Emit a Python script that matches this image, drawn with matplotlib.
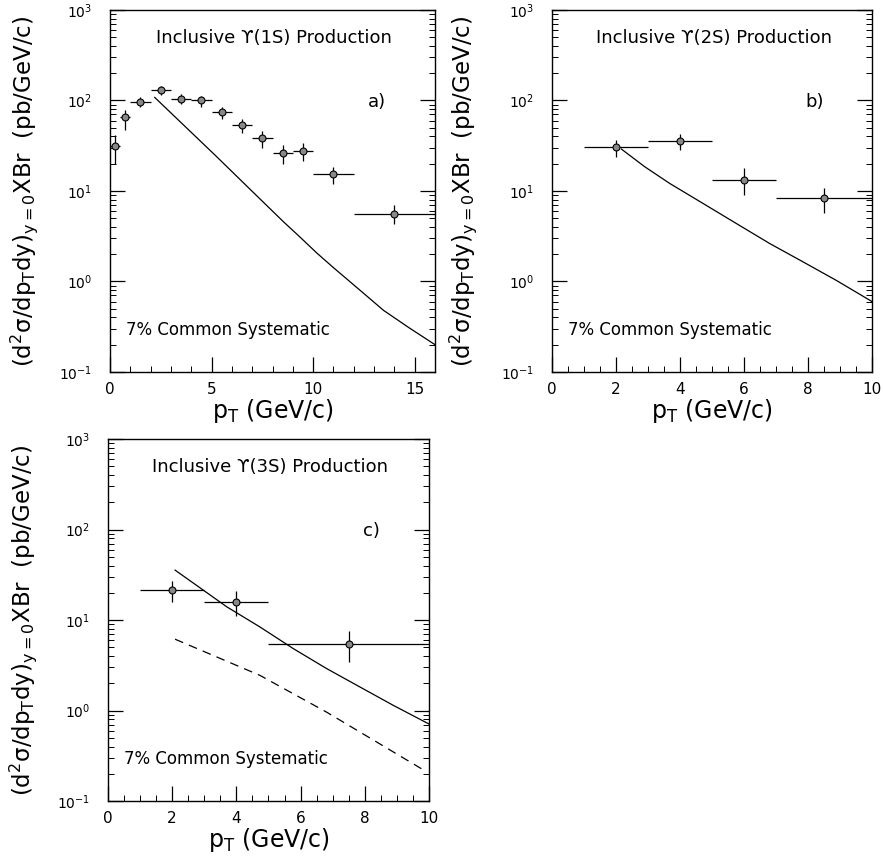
import numpy as np
import matplotlib
matplotlib.use("Agg")
import matplotlib.pyplot as plt
from matplotlib.ticker import MultipleLocator, LogLocator, NullFormatter

# Upsilon(1S)
pt_1s = [0.25, 0.75, 1.5, 2.5, 3.5, 4.5, 5.5, 6.5, 7.5, 8.5, 9.5, 11.0, 14.0]
xerr_1s = [0.25, 0.25, 0.5, 0.5, 0.5, 0.5, 0.5, 0.5, 0.5, 0.5, 0.5, 1.0, 2.0]
y_1s = [31, 65, 97, 130, 105, 101, 74, 53, 38, 26, 27.6, 15.4, 5.6]
yhi_1s = [41.5, 78, 108, 144, 117, 112, 85, 63, 46, 32, 34, 18.5, 7.0]
ylo_1s = [19.8, 47, 84, 115, 91, 85, 63, 44, 30, 20, 21.6, 11.9, 4.3]
th_pt_1s = [2.2, 5.25, 6.9, 8.54, 9.36, 10.18, 11.0, 11.82, 12.64, 13.46, 14.7, 16.0]
th_1s = [108, 23.9, 10.4, 4.56, 3.08, 2.06, 1.42, 0.99, 0.69, 0.48, 0.31, 0.20]

# Upsilon(2S)
pt_2s = [2.0, 4.0, 6.0, 8.5]
xerr_2s = [1.0, 1.0, 1.0, 1.5]
y_2s = [30.8, 35.6, 13.1, 8.26]
yhi_2s = [37, 43, 17.7, 10.7]
ylo_2s = [23.9, 28.3, 9.0, 5.7]
th_pt_2s = [2.17, 2.9, 3.68, 4.72, 5.76, 6.80, 7.84, 8.88, 10.0]
th_2s = [29.0, 18.5, 12.1, 7.28, 4.37, 2.63, 1.65, 1.03, 0.60]

# Upsilon(3S)
pt_3s = [2.0, 4.0, 7.5]
xerr_3s = [1.0, 1.0, 2.5]
y_3s = [21.2, 15.9, 5.4]
yhi_3s = [26.7, 20.7, 7.5]
ylo_3s = [16.0, 11.1, 3.4]
th_pt_3s = [2.09, 3.70, 4.73, 5.77, 6.81, 7.85, 8.89, 10.0]
th_3s = [35.6, 14.0, 8.4, 4.84, 2.91, 1.82, 1.14, 0.71]
th2_pt_3s = [2.09, 4.73, 6.81, 9.93]
th2_3s = [6.14, 2.45, 0.96, 0.21]

ylab = r'$\mathregular{(d^2\sigma/dp_T dy)_{y=0}}$XBr  (pb/GeV/c)'
xlab = r'$\mathregular{p_T}$ (GeV/c)'

fig = plt.figure(figsize=(8.83, 8.63), dpi=100)
ax_a = fig.add_axes([0.1246, 0.5690, 0.3681, 0.4195])
ax_b = fig.add_axes([0.6251, 0.5690, 0.3624, 0.4195])
ax_c = fig.add_axes([0.1223, 0.0718, 0.3635, 0.4195])


def panel(ax, pt, xerr, y, ylo, yhi, xmax, major, minor, title, tag, ylx):
    yerr = [np.array(y) - np.array(ylo), np.array(yhi) - np.array(y)]
    ax.errorbar(pt, y, xerr=xerr, yerr=yerr, fmt='o', ms=5, mfc='#888888',
                mec='black', mew=0.8, ecolor='black', elinewidth=0.9,
                capsize=0, color='black', zorder=3)
    ax.set_yscale('log')
    ax.set_xlim(0, xmax)
    ax.set_ylim(0.1, 1000)
    ax.xaxis.set_major_locator(MultipleLocator(major))
    ax.xaxis.set_minor_locator(MultipleLocator(minor))
    ax.yaxis.set_major_locator(LogLocator(base=10, numticks=10))
    ax.yaxis.set_minor_locator(LogLocator(base=10, subs=np.arange(2, 10), numticks=50))
    ax.yaxis.set_minor_formatter(NullFormatter())
    ax.tick_params(which='both', direction='in', top=False, right=True)
    ax.tick_params(which='major', length=11, width=0.9)
    ax.tick_params(which='minor', length=4, width=0.7)
    ax.tick_params(axis='y', which='major', labelsize=10, pad=13)
    ax.tick_params(axis='x', which='major', labelsize=11, pad=7)
    for s in ax.spines.values():
        s.set_linewidth(1.0)
    ax.set_xlabel(xlab, fontsize=17, labelpad=0)
    ax.set_ylabel(ylab, fontsize=16.5)
    ax.yaxis.set_label_coords(ylx, 0.5)
    ax.text(0.505, 0.922, title, transform=ax.transAxes, ha='center',
            va='center', fontsize=13)
    ax.text(0.82, 0.745, tag, transform=ax.transAxes, ha='center',
            va='center', fontsize=13)
    ax.text(0.05, 0.115, '7% Common Systematic', transform=ax.transAxes,
            ha='left', va='center', fontsize=12)


panel(ax_a, pt_1s, xerr_1s, y_1s, ylo_1s, yhi_1s, 16, 5, 1,
      'Inclusive ϒ(1S) Production', 'a)', -0.216)
ax_a.plot(th_pt_1s, th_1s, color='black', lw=0.9)

panel(ax_b, pt_2s, xerr_2s, y_2s, ylo_2s, yhi_2s, 10, 2, 0.5,
      'Inclusive ϒ(2S) Production', 'b)', -0.228)
ax_b.plot(th_pt_2s, th_2s, color='black', lw=0.9)

panel(ax_c, pt_3s, xerr_3s, y_3s, ylo_3s, yhi_3s, 10, 2, 0.5,
      'Inclusive ϒ(3S) Production', 'c)', -0.216)
ax_c.plot(th_pt_3s, th_3s, color='black', lw=0.9)
ax_c.plot(th2_pt_3s, th2_3s, color='black', lw=0.9, ls=(0, (7, 5)))

fig.savefig('out.png', dpi=100)
